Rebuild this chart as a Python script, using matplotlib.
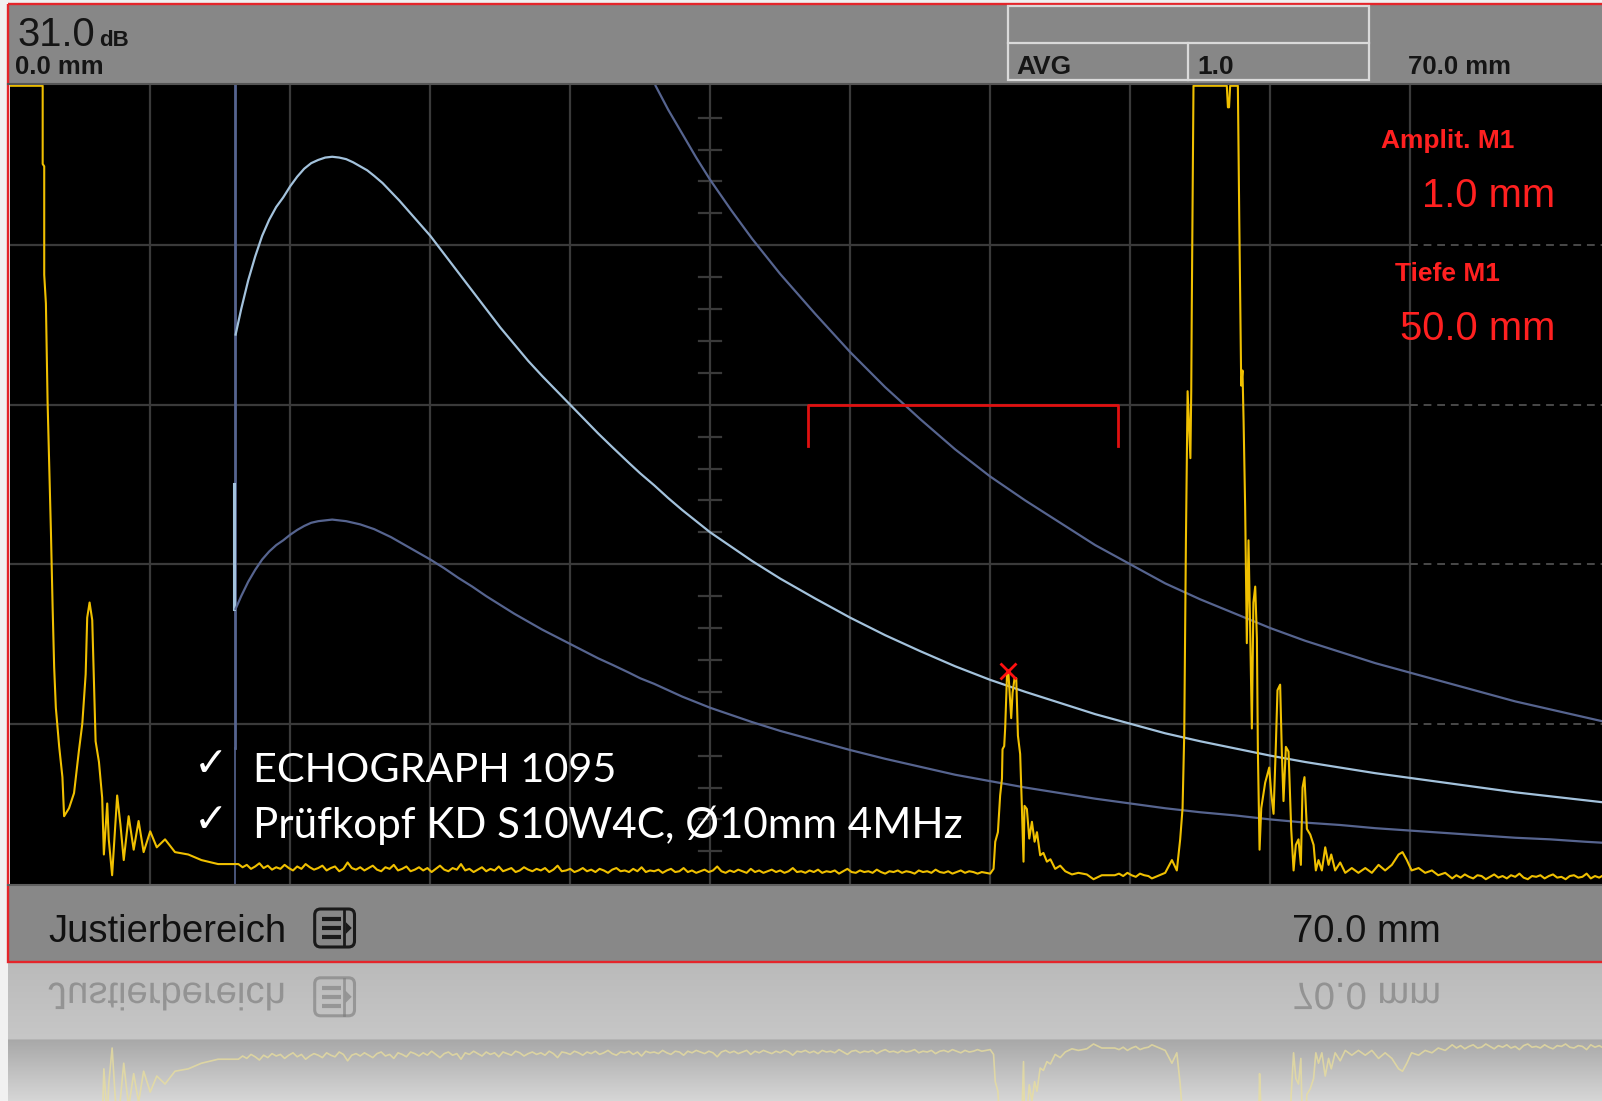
import numpy as np
import matplotlib.pyplot as plt
from matplotlib.patches import Rectangle, FancyBboxPatch, Polygon, PathPatch
from matplotlib.textpath import TextPath
from matplotlib.font_manager import FontProperties
from matplotlib.transforms import Affine2D

# ---------------- data: x in screen divisions (1 div = 7 mm), y in % screen height
pulse_div = [0.0, 0.232, 0.232, 0.243, 0.243, 0.255, 0.267, 0.291, 0.303, 0.314, 0.326, 0.35,
             0.373, 0.385, 0.42, 0.456, 0.49, 0.515, 0.539, 0.55, 0.567, 0.586, 0.598, 0.61,
             0.634, 0.657, 0.669, 0.693, 0.704, 0.728, 0.764, 0.787, 0.811, 0.846, 0.882, 0.917,
             0.953, 1.0, 1.047, 1.106, 1.177, 1.272, 1.366, 1.485, 1.6]
pulse_pct = [100, 100, 90.2, 89.9, 76.3, 72.7, 60.4, 44.0, 34.6, 27.1, 22.0, 17.1,
             13.3, 8.4, 9.4, 11.3, 16.5, 20.0, 26.2, 33.3, 35.2, 33.0, 25.5, 17.8,
             15.2, 10.7, 3.6, 10.0, 5.5, 1.0, 11.0, 7.4, 2.9, 8.4, 4.2, 7.8,
             3.9, 6.5, 4.5, 5.5, 3.9, 3.6, 2.9, 2.4, 2.4]

noise_a_start = 1.63
noise_a_pct = [2.4, 2.0, 2.3, 1.8, 2.1, 2.5, 1.9, 2.2, 1.7, 2.0,
               1.8, 2.3, 1.9, 1.6, 2.1, 1.8, 2.4, 2.0, 1.7, 1.9,
               2.2, 1.6, 1.9, 2.1, 1.5, 1.8, 2.6, 1.9, 1.7, 2.0,
               1.6, 1.9, 2.2, 1.7, 1.5, 2.0, 1.8, 2.3, 1.6, 1.8,
               2.1, 1.5, 1.7, 2.0, 1.6, 1.9, 1.4, 1.8, 2.2, 1.7,
               1.5, 1.9, 1.7, 2.4, 1.6, 1.8, 1.4, 1.7, 2.0, 1.5,
               1.8, 1.6, 2.1, 1.5, 1.7, 1.9, 1.4, 1.6, 2.0, 1.7,
               1.5, 1.8, 1.6, 1.9, 1.4, 1.7, 2.2, 1.5, 1.6, 1.8,
               1.4, 1.6, 1.9, 1.5, 1.7, 1.4, 1.8, 1.6, 1.3, 1.7,
               1.9, 1.5, 1.6, 1.4, 1.8, 1.5, 2.0, 1.4, 1.6, 1.5,
               1.7, 1.3, 1.6, 1.8, 1.4, 1.5, 1.9, 1.4, 1.6, 1.3,
               1.5, 1.7, 1.4, 1.6, 2.1, 1.5, 1.3, 1.6, 1.4, 1.7,
               1.5, 1.3, 1.8, 1.4, 1.6, 1.3, 1.5, 1.7, 1.4, 1.6,
               1.3, 1.5, 1.9, 1.4, 1.5, 1.3, 1.6, 1.4, 1.7, 1.3,
               1.5, 1.4, 1.6, 1.2, 1.5, 1.8, 1.4, 1.3, 1.6, 1.4,
               1.5, 1.3, 1.7, 1.4, 1.2, 1.5, 1.4, 1.6, 1.3, 1.5,
               1.4, 1.2, 1.6, 1.4, 1.5, 1.3, 1.7, 1.4, 1.3, 1.5,
               1.2, 1.4, 1.6, 1.3, 1.5, 1.4, 1.2, 1.4, 1.3]

flaw_div = [7.0, 7.024, 7.036, 7.055, 7.071, 7.084, 7.088, 7.10, 7.107, 7.12, 7.13, 7.15,
            7.16, 7.174, 7.186, 7.198, 7.214, 7.226, 7.238, 7.245, 7.262, 7.279, 7.298,
            7.317, 7.334, 7.357, 7.38, 7.405, 7.43, 7.464, 7.5, 7.536, 7.584, 7.63, 7.69,
            7.738, 7.797, 7.89]
flaw_pct = [1.2, 1.8, 5.2, 6.4, 11.0, 13.1, 16.8, 17.2, 19.5, 26.1, 26.4, 20.7,
            23.9, 25.7, 25.7, 18.5, 16.2, 9.7, 2.7, 9.7, 9.3, 5.6, 7.7,
            5.2, 6.4, 3.5, 3.8, 2.7, 3.0, 1.8, 2.2, 1.5, 1.1, 1.3, 1.1,
            0.5, 1.0, 1.0]

noise_b_start = 7.92
noise_b_pct = [1.2, 0.9, 1.3, 1.0, 0.8, 1.2, 1.0, 0.9]

backwall_div = [8.155, 8.25, 8.298, 8.333, 8.357, 8.374, 8.386, 8.398, 8.41, 8.43, 8.436, 8.44,
                8.452, 8.69, 8.698, 8.706, 8.714, 8.769, 8.779, 8.793, 8.802, 8.81, 8.821,
                8.833, 8.845, 8.857, 8.869, 8.88, 8.893, 8.905, 8.912, 8.924, 8.936, 8.964,
                8.993, 9.007, 9.024, 9.04, 9.052, 9.071, 9.083, 9.095, 9.112, 9.131, 9.15,
                9.167, 9.183, 9.202, 9.219, 9.231, 9.245, 9.262, 9.286, 9.31, 9.326, 9.345,
                9.369, 9.393, 9.417, 9.436, 9.464, 9.5, 9.536, 9.583, 9.63, 9.679, 9.726,
                9.774, 9.821, 9.869, 9.917, 9.945, 9.976, 10.01, 10.06, 10.107, 10.155, 10.2,
                10.25, 10.3]
backwall_pct = [0.6, 1.3, 2.9, 1.6, 5.5, 9.4, 18.7, 43.0, 61.7, 53.3, 61.7, 72.4,
                100, 100, 97.3, 97.3, 100, 100, 83.4, 62.4, 64.3, 57.9, 47.2,
                30.1, 43.0, 31.7, 19.4, 35.2, 37.2, 30.7, 16.5, 4.2, 9.4, 12.6,
                14.5, 11.3, 8.7, 17.1, 24.2, 24.9, 16.5, 10.3, 17.1, 16.5, 6.8,
                1.6, 4.8, 5.5, 2.3, 12.0, 13.3, 6.8, 6.1, 4.8, 1.6, 2.9,
                1.6, 4.5, 2.3, 3.6, 1.6, 2.6, 1.3, 1.9, 1.3, 1.9, 1.3,
                2.3, 1.6, 2.3, 3.6, 3.9, 2.9, 1.6, 1.9, 1.3, 1.6, 1.0,
                1.3, 0.6]

noise_c_start = 10.33
noise_c_pct = [1.0, 0.7, 1.1, 0.8, 0.6, 1.0, 0.9, 0.5, 0.8, 1.1,
               0.7, 0.9, 0.6, 1.0, 0.8, 1.2, 0.7, 0.5, 0.9, 0.8,
               1.0, 0.6, 0.9, 1.1, 0.7, 0.8, 0.5, 0.9, 1.0, 0.7,
               0.8, 1.2, 0.6, 0.9, 0.7, 1.0, 0.8]
noise_step = 0.03

# AVG (DGS) curves
avg_div = [1.61, 1.65, 1.70, 1.75, 1.80, 1.85, 1.90, 1.95, 2.00, 2.05,
           2.10, 2.15, 2.20, 2.25, 2.30, 2.35, 2.40, 2.45, 2.50, 2.55,
           2.60, 2.66, 2.72, 2.78, 2.84, 2.90, 3.00, 3.10, 3.20, 3.30,
           3.40, 3.50, 3.60, 3.70, 3.80, 3.90, 4.00, 4.10, 4.20, 4.30,
           4.42, 4.50, 4.60, 4.70, 4.80, 4.90, 5.00, 5.15, 5.30, 5.50,
           5.75, 6.00, 6.25, 6.50, 6.75, 7.00, 7.25, 7.50, 7.75, 8.00,
           8.25, 8.50, 8.75, 9.00, 9.25, 9.50, 9.75, 10.0, 10.25, 10.5,
           10.75, 11.0, 11.25, 11.45]
avg_ref_pct = [68.8, 72.0, 75.6, 78.6, 81.2, 83.2, 84.8, 86.0, 87.4, 88.6,
               89.6, 90.3, 90.7, 91.0, 91.1, 91.0, 90.8, 90.4, 89.9, 89.4,
               88.7, 87.8, 86.7, 85.6, 84.4, 83.2, 81.2, 78.9, 76.6, 74.3,
               72.0, 69.7, 67.6, 65.5, 63.6, 61.8, 60.0, 58.2, 56.4, 54.7,
               52.7, 51.4, 49.9, 48.3, 46.8, 45.4, 44.0, 42.2, 40.4, 38.2,
               35.7, 33.3, 31.1, 29.1, 27.2, 25.5, 24.0, 22.6, 21.2, 20.0,
               18.8, 17.8, 16.9, 16.0, 15.2, 14.5, 13.8, 13.2, 12.6, 12.0,
               11.4, 10.9, 10.4, 10.0]
avg_low_pct = [34.4, 36.0, 37.8, 39.3, 40.6, 41.6, 42.4, 43.0, 43.7, 44.3,
               44.8, 45.2, 45.4, 45.5, 45.6, 45.5, 45.4, 45.2, 45.0, 44.7,
               44.4, 43.9, 43.4, 42.8, 42.2, 41.6, 40.6, 39.5, 38.3, 37.2,
               36.0, 34.9, 33.8, 32.8, 31.8, 30.9, 30.0, 29.1, 28.2, 27.4,
               26.4, 25.7, 25.0, 24.2, 23.4, 22.7, 22.0, 21.1, 20.2, 19.1,
               17.9, 16.7, 15.6, 14.6, 13.6, 12.8, 12.0, 11.3, 10.6, 10.0,
               9.4, 8.9, 8.5, 8.0, 7.6, 7.3, 6.9, 6.6, 6.3, 6.0,
               5.7, 5.5, 5.2, 5.0]
avg_high_div = [4.61, 4.70, 4.80, 4.90, 5.00, 5.15, 5.30, 5.50, 5.75, 6.00, 6.25, 6.50,
                6.75, 7.00, 7.25, 7.50, 7.75, 8.00, 8.25, 8.50, 8.75, 9.00, 9.25, 9.50,
                9.75, 10.0, 10.25, 10.5, 10.75, 11.0, 11.25, 11.45]
avg_high_pct = [100, 97.0, 94.0, 91.0, 88.2, 84.4, 80.8, 76.4, 71.4, 66.6, 62.2, 58.2,
                54.4, 51.0, 48.0, 45.2, 42.4, 40.0, 37.6, 35.6, 33.8, 32.0, 30.4, 29.0,
                27.6, 26.4, 25.2, 24.0, 22.8, 21.8, 20.8, 20.0]

delay_div = 1.606
gate_div = (5.70, 7.915)
gate_pct = 60.0
gate_leg_pct = 54.8
m1_div, m1_pct = 7.127, 26.6

# ---------------- layout (pixels of the 1602x1101 screenshot)
W, H = 1602, 1101
FRAME_L, FRAME_T = 8.2, 4.1
PLOT_L, PLOT_T, PLOT_B = 10.2, 83.8, 884.8
BAR_B = 962.4
REFL_T = 2 * BAR_B - PLOT_B
DIV_PX = 140.0
PCT_PX = (PLOT_B - PLOT_T) / 100.0

GRID = '#3a3a3a'
YELLOW = '#f0c000'
LIGHT_BLUE = '#a3c2dc'
DARK_BLUE = '#56648f'
RED = '#ff2020'


def noise_x(start, vals):
    return start + noise_step * np.arange(len(vals))


trace_x = np.concatenate([pulse_div, noise_x(noise_a_start, noise_a_pct), flaw_div,
                          noise_x(noise_b_start, noise_b_pct), backwall_div,
                          noise_x(noise_c_start, noise_c_pct)])
trace_y = np.concatenate([pulse_pct, noise_a_pct, flaw_pct, noise_b_pct, backwall_pct,
                          noise_c_pct])

fig = plt.figure(figsize=(W / 100, H / 100), dpi=100)
fig.patch.set_facecolor('#f1f1f1')

# background (pixel coordinates)
bg = fig.add_axes([0, 0, 1, 1], zorder=0)
bg.set_xlim(0, W)
bg.set_ylim(H, 0)
bg.axis('off')
bg.add_patch(Rectangle((FRAME_L, FRAME_T), W, PLOT_T - FRAME_T, fc='#878787', ec='none'))
bg.add_patch(Rectangle((FRAME_L, PLOT_B), W, BAR_B - PLOT_B, fc='#888888', ec='none'))

# reflection gradient below the device
rows = np.linspace(BAR_B, H, 140)
top_c = np.array([0.73, 0.73, 0.73])
mid_c = np.array([0.78, 0.78, 0.78])
band_c = np.array([0.66, 0.66, 0.66])
low_c = np.array([0.84, 0.84, 0.84])
grad = []
for r in rows:
    if r < REFL_T:
        t = (r - BAR_B) / (REFL_T - BAR_B)
        grad.append(top_c + (mid_c - top_c) * t)
    else:
        t = (r - REFL_T) / (H - REFL_T)
        grad.append(band_c + (low_c - band_c) * t)
grad = np.array(grad)[:, None, :]
bg.imshow(grad, extent=[FRAME_L, W, H, BAR_B], aspect='auto', interpolation='bilinear')

# ---------------- A-scan
ax = fig.add_axes([PLOT_L / W, 1 - PLOT_B / H, 1 - PLOT_L / W, (PLOT_B - PLOT_T) / H], zorder=1)
ax.set_facecolor('black')
xmax = (W - PLOT_L) / DIV_PX
ax.set_xlim(0, xmax)
ax.set_ylim(-0.2, 100.25)
for s in ax.spines.values():
    s.set_visible(False)
ax.set_xticks([])
ax.set_yticks([])

for d in range(1, 11):
    ax.plot([d, d], [-1, 101], color=GRID, lw=1.6, zorder=1)
for p in (20, 40, 60, 80):
    ax.plot([0, 10], [p, p], color=GRID, lw=1.6, zorder=1)
    ax.plot([10, xmax], [p, p], color='#4a4a4a', lw=1.4, ls=(0, (4, 3)), zorder=1)
for p in np.arange(4, 100, 4):
    if p % 20:
        ax.plot([4.92, 5.08], [p, p], color=GRID, lw=1.6, zorder=1)

# delay line and DGS curves
ax.plot([delay_div, delay_div], [17, 101], color=DARK_BLUE, lw=2, zorder=2)
ax.plot([delay_div, delay_div], [-1, 17], color=DARK_BLUE, lw=1.2, zorder=2)
ax.plot([delay_div - 0.01, delay_div - 0.01], [avg_low_pct[0], 50], color=LIGHT_BLUE, lw=2.2, zorder=2)
ax.plot(avg_div, avg_ref_pct, color=LIGHT_BLUE, lw=1.6, zorder=2)
ax.plot(avg_div, avg_low_pct, color=DARK_BLUE, lw=1.6, zorder=2)
ax.plot(avg_high_div, avg_high_pct, color=DARK_BLUE, lw=1.6, zorder=2)

# gate
g0, g1 = gate_div
ax.plot([g0, g0, g1, g1], [gate_leg_pct, gate_pct, gate_pct, gate_leg_pct], color='#e01010', lw=2, zorder=3)

# echo trace
ax.plot(trace_x, trace_y, color=YELLOW, lw=1.5, zorder=4)
ax.plot([m1_div], [m1_pct], marker='x', color='#ff1010', ms=11, mew=2, zorder=5)

# ---------------- reflection of the trace
refl = fig.add_axes([PLOT_L / W, 0, 1 - PLOT_L / W, (H - REFL_T) / H], zorder=1)
refl.set_xlim(0, xmax)
refl.set_ylim((H - REFL_T) / PCT_PX, 0)
refl.axis('off')
refl.plot(trace_x, trace_y, color='#eadf9c', lw=1.2, alpha=0.75)

# ---------------- overlay: frame, bars and labels
ov = fig.add_axes([0, 0, 1, 1], zorder=5)
ov.set_xlim(0, W)
ov.set_ylim(H, 0)
ov.axis('off')

ov.plot([FRAME_L, W], [PLOT_T, PLOT_T], color='#555555', lw=1.5)
ov.plot([FRAME_L, W], [PLOT_B, PLOT_B], color='#606060', lw=1.5)
ov.add_patch(Rectangle((FRAME_L, FRAME_T), W, BAR_B - FRAME_T, fill=False, ec='#e4252a', lw=1.7))

sans = 'Liberation Sans'
ov.text(17.4, 46.5, '31.0', fontsize=28.8, family=sans, color='#151515')
ov.text(99, 46.5, 'dB', fontsize=16, family=sans, weight='bold', color='#151515')
ov.text(15.3, 73.6, '0.0 mm', fontsize=18.5, family=sans, weight='bold', color='#151515')

ov.add_patch(Rectangle((1008.4, 5.6), 360.6, 74.1, fill=False, ec='#dadada', lw=1.6))
ov.plot([1008.4, 1369], [42.9, 42.9], color='#dadada', lw=1.6)
ov.plot([1188, 1188], [42.9, 79.7], color='#dadada', lw=1.6)
ov.text(1016.6, 73.6, 'AVG', fontsize=19, family=sans, weight='bold', color='#151515')
ov.text(1197.5, 73.6, '1.0', fontsize=19, family=sans, weight='bold', color='#151515')
ov.text(1408, 73.6, '70.0 mm', fontsize=18.5, family=sans, weight='bold', color='#151515')

ov.text(1381.3, 148, 'Amplit. M1', fontsize=19, family=sans, weight='bold', color=RED)
ov.text(1555, 207.4, '1.0 mm', fontsize=28.8, family=sans, color=RED, ha='right')
ov.text(1394.6, 281, 'Tiefe M1', fontsize=19, family=sans, weight='bold', color=RED)
ov.text(1555, 340, '50.0 mm', fontsize=28.8, family=sans, color=RED, ha='right')

ov.text(48, 942, 'Justierbereich', fontsize=27.5, family=sans, color='#111111')
ov.text(1292.5, 942, '70.0 mm', fontsize=27.5, family=sans, color='#111111')

white_font = ['Lato', 'DejaVu Sans']
ov.text(194, 776, '\u2713', fontsize=29.5, family=['DejaVu Sans'], color='white')
ov.text(194, 832, '\u2713', fontsize=29.5, family=['DejaVu Sans'], color='white')
ov.text(253.4, 781.6, 'ECHOGRAPH 1095', fontsize=29.8, family=white_font, color='white')
ov.text(253.4, 838, 'Pr\u00fcfkopf KD S10W4C, \u00d810mm 4MHz', fontsize=30.3, family=white_font,
        color='white')


def draw_icon(tf, color, alpha=1.0):
    x0, y0, w, h = 314.7, 909.0, 39.8, 38.0
    ov.add_patch(FancyBboxPatch((x0 + 3, y0 + 3), w - 6, h - 6, boxstyle='round,pad=3,rounding_size=6',
                                fill=False, ec=color, lw=2.2, alpha=alpha, transform=tf))
    for yy in (y0 + 10, y0 + 19, y0 + 28):
        ov.plot([x0 + 7, x0 + 26], [yy, yy], color=color, lw=3, alpha=alpha, transform=tf,
                solid_capstyle='butt')
    ov.plot([x0 + 29, x0 + 29], [y0 + 1, y0 + h - 1], color=color, lw=2, alpha=alpha, transform=tf)
    ov.add_patch(Polygon([[x0 + 31, y0 + 13], [x0 + 37, y0 + 19], [x0 + 31, y0 + 25]], closed=True,
                         fc=color, ec='none', alpha=alpha, transform=tf))


draw_icon(ov.transData, '#1a1a1a')
mirror = Affine2D().scale(1, -1).translate(0, 2 * BAR_B) + ov.transData
draw_icon(mirror, '#7a7a7a', alpha=0.6)

# mirrored bar texts
fp = FontProperties(family=sans)
em_px = 27.5 * 100 / 72
for s, x in (('Justierbereich', 48), ('70.0 mm', 1292.5)):
    tp = TextPath((0, 0), s, size=em_px, prop=fp)
    tf = Affine2D().translate(x, 2 * BAR_B - 942) + ov.transData
    ov.add_patch(PathPatch(tp, fc='#767676', ec='none', alpha=0.6, transform=tf))

fig.savefig('out.png', dpi=100, facecolor=fig.get_facecolor())
